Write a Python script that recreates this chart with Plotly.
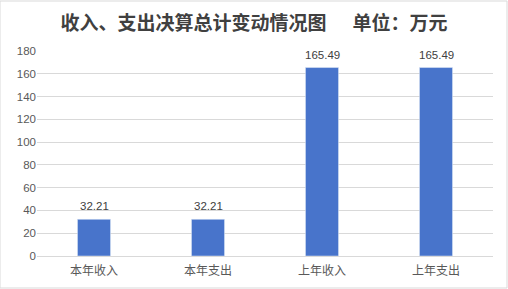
import plotly.graph_objects as go

categories = ["本年收入", "本年支出", "上年收入", "上年支出"]
values = [32.21, 32.21, 165.49, 165.49]
labels = ["32.21", "32.21", "165.49", "165.49"]
tick_vals = [0, 20, 40, 60, 80, 100, 120, 140, 160, 180]

fig = go.Figure(go.Bar(
    x=categories, y=values,
    marker_color="#4874CB", width=0.29,
))
for c, v, t in zip(categories, values, labels):
    fig.add_annotation(x=c, y=v, text=t, showarrow=False, yanchor="bottom", yshift=5,
                       font=dict(size=11.5, color="#404040", family="Liberation Sans, Arial"))
fig.update_layout(
    width=508, height=289,
    margin=dict(l=37, r=15, t=51, b=33),
    paper_bgcolor="white", plot_bgcolor="white",
    title=dict(text="<b>收入、支出决算总计变动情况图      单位：万元</b>",
               x=0.5, xanchor="center", y=0.92, yanchor="middle",
               font=dict(size=19, color="#404040", family="Noto Sans CJK SC")),
    showlegend=False,
    bargap=0.71,
    font=dict(family="Noto Sans CJK SC, Liberation Sans", color="#595959"),
)
fig.update_yaxes(range=[0, 180], tickvals=tick_vals, showgrid=True, gridcolor="#D9D9D9",
                 gridwidth=1, zeroline=False, showline=False, ticks="",
                 tickfont=dict(size=11.5, color="#595959", family="Liberation Sans, Arial"))
fig.update_xaxes(showline=True, linecolor="#D9D9D9", linewidth=1, ticks="",
                 ticklabelstandoff=4,
                 tickfont=dict(size=12, color="#595959", family="Noto Sans CJK SC"))
fig.add_shape(type="rect", xref="paper", yref="paper", x0=-37/456, x1=1+14/456,
              y0=-32/205, y1=1+50/205, line=dict(color="#D9D9D9", width=1))
fig.write_html("out.html")
